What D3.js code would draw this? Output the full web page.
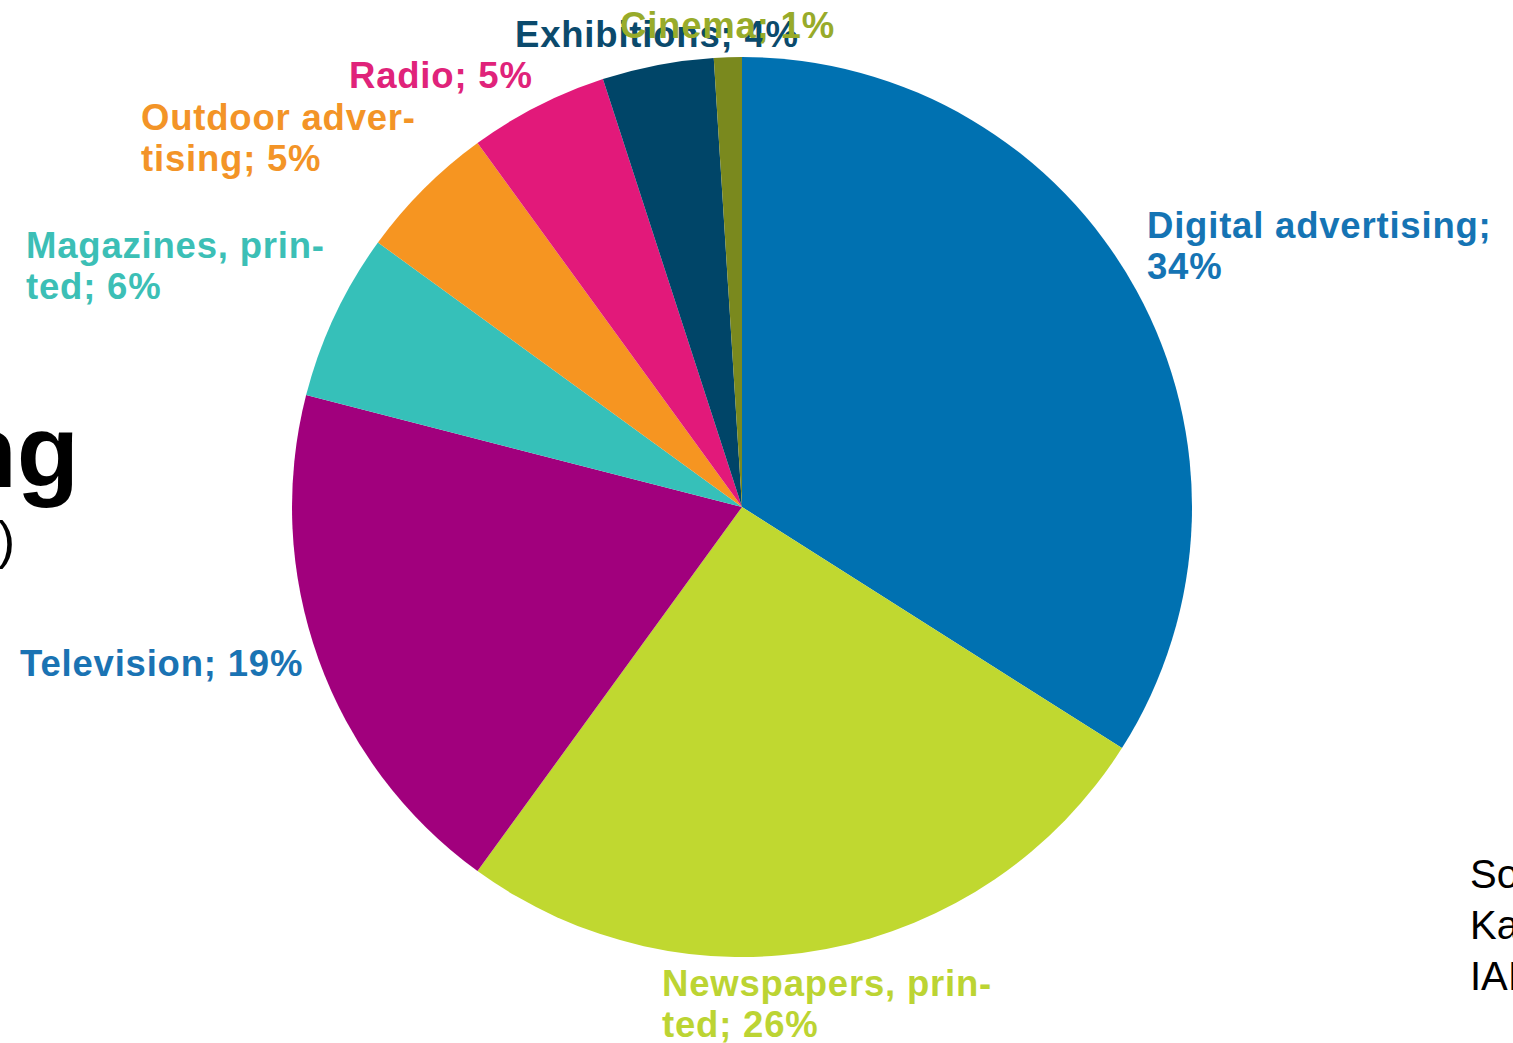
<!DOCTYPE html>
<html>
<head>
<meta charset="utf-8">
<script src="https://cdn.jsdelivr.net/npm/d3@7"></script>
<style>
  html, body { margin: 0; padding: 0; background: #fff; overflow: hidden; }
  svg { display: block; }
  text { font-family: "Liberation Sans", Arial, sans-serif; }
</style>
</head>
<body>
<svg id="chart" width="1513" height="1043"></svg>
<script>
// ---- data ----
const categories = ["Digital advertising", "Newspapers, printed", "Television", "Magazines, printed",
                    "Outdoor advertising", "Radio", "Exhibitions", "Cinema"];
const values = [34, 26, 19, 6, 5, 5, 4, 1];
const labelLines = [
  ["Digital advertising;", "34%"],
  ["Newspapers, prin-", "ted; 26%"],
  ["Television; 19%"],
  ["Magazines, prin-", "ted; 6%"],
  ["Outdoor adver-", "tising; 5%"],
  ["Radio; 5%"],
  ["Exhibitions; 4%"],
  ["Cinema; 1%"]
];
const sliceColors = ["#0071b1", "#c0d830", "#a1007d", "#36c0b9", "#f69521", "#e2197a", "#004568", "#7a891e"];
const labelColors = ["#1574b4", "#bcd433", "#1a73b3", "#3cbfb6", "#f39427", "#e0237a", "#0b4a6c", "#98ab2a"];
const sideTitle = ["ng", ")"];
const sourceLines = ["So", "Ka", "IAI"];

// ---- layout ----
const cx = 742, cy = 507, radius = 450;
const labelPos = [
  [1147, 238], [662, 996], [20, 676], [26, 258],
  [141, 130], [349, 88], [515, 47], [620, 38]
];
const lineHeight = 41;

const svg = d3.select("#chart");

const pie = d3.pie().sort(null).value(d => d)(values);
const arc = d3.arc().innerRadius(0).outerRadius(radius);

const g = svg.append("g").attr("transform", `translate(${cx},${cy})`);
g.selectAll("path")
  .data(pie)
  .join("path")
  .attr("d", arc)
  .attr("fill", (d, i) => sliceColors[i]);

// labels
const labels = svg.append("g");
labelLines.forEach((lines, i) => {
  const t = labels.append("text")
    .attr("x", labelPos[i][0])
    .attr("y", labelPos[i][1])
    .attr("fill", labelColors[i])
    .attr("font-size", 36.5)
    .attr("font-weight", "bold")
    .attr("letter-spacing", 0.8);
  lines.forEach((ln, j) => {
    t.append("tspan")
      .attr("x", labelPos[i][0])
      .attr("dy", j === 0 ? 0 : lineHeight)
      .text(ln);
  });
});

// partial slide title on the left edge
svg.append("text")
  .attr("x", 79).attr("y", 487)
  .attr("text-anchor", "end")
  .attr("font-size", 102).attr("font-weight", "bold")
  .attr("fill", "#000")
  .text(sideTitle[0]);
svg.append("text")
  .attr("x", 15).attr("y", 558)
  .attr("text-anchor", "end")
  .attr("font-size", 52)
  .attr("fill", "#000")
  .text(sideTitle[1]);

// partial source note at bottom right
svg.append("g").selectAll("text")
  .data(sourceLines)
  .join("text")
  .attr("x", 1470)
  .attr("y", (d, i) => 888 + i * 51)
  .attr("font-size", 40)
  .attr("fill", "#000")
  .text(d => d);
</script>
</body>
</html>
